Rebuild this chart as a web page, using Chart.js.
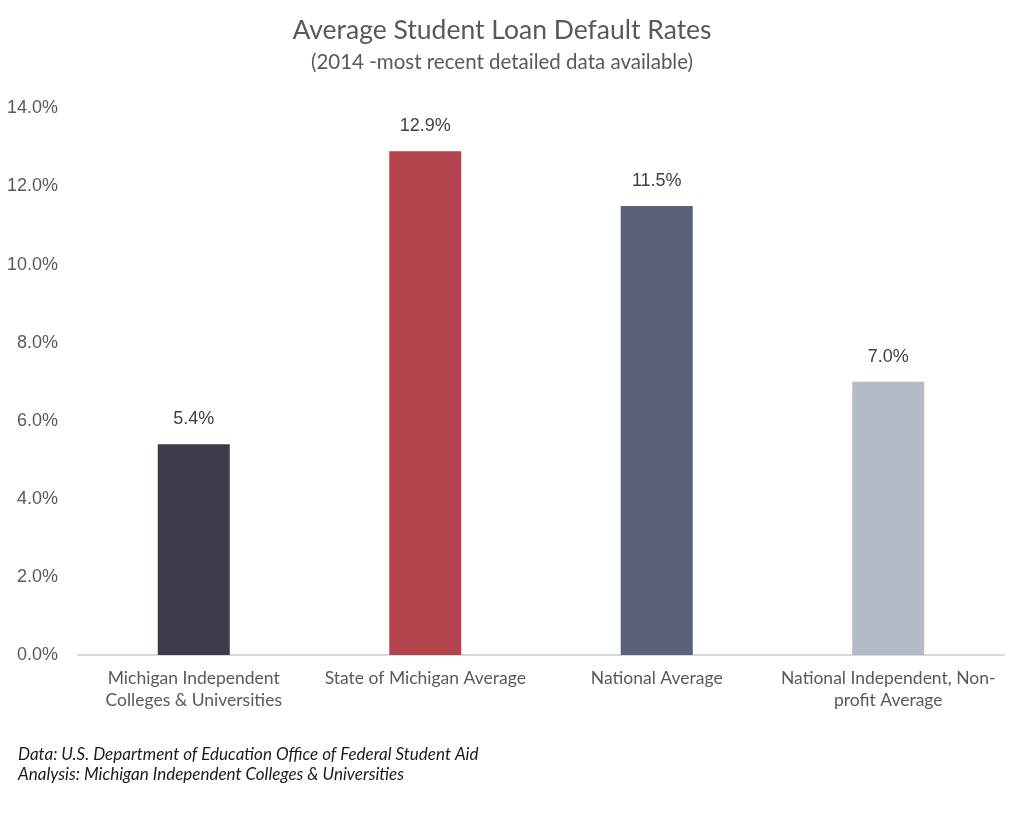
<!DOCTYPE html>
<html>
<head>
<meta charset="utf-8">
<script src="https://cdn.jsdelivr.net/npm/chart.js@4/dist/chart.umd.min.js"></script>
<style>
    html, body { margin: 0; padding: 0; background: #ffffff; }
    #wrap { position: relative; width: 1012px; height: 827px; }
</style>
</head>
<body>
<div id="wrap"><canvas id="loanChart"></canvas></div>
<script>
const categories = [
    ['Michigan Independent', 'Colleges & Universities'],
    'State of Michigan Average',
    'National Average',
    ['National Independent, Non-', 'profit Average']
];
const defaultRates = [5.4, 12.9, 11.5, 7.0];
const barColors = ['#3d3a4a', '#b5434e', '#5a6179', '#b5bbc6'];
const yTicks = [0, 2, 4, 6, 8, 10, 12, 14];
const footnotes = [
    'Data: U.S. Department of Education Office of Federal Student Aid',
    'Analysis: Michigan Independent Colleges & Universities'
];

const valueLabels = {
    id: 'valueLabels',
    afterDatasetsDraw(chart) {
        const ctx = chart.ctx;
        const meta = chart.getDatasetMeta(0);
        ctx.save();
        ctx.font = '18px "Liberation Sans", Arial, sans-serif';
        ctx.fillStyle = '#404040';
        ctx.textAlign = 'center';
        ctx.textBaseline = 'middle';
        meta.data.forEach((bar, i) => {
            ctx.fillText(defaultRates[i].toFixed(1) + '%', bar.x, bar.y - 25);
        });
        ctx.restore();
    }
};

const footnotePlugin = {
    id: 'footnotePlugin',
    afterDraw(chart) {
        const ctx = chart.ctx;
        ctx.save();
        ctx.font = 'italic 17px Lato, sans-serif';
        ctx.fillStyle = '#1a1a1a';
        ctx.textAlign = 'left';
        ctx.textBaseline = 'middle';
        footnotes.forEach((line, i) => {
            ctx.fillText(line, 18, 755 + i * 20);
        });
        ctx.restore();
    }
};

const ctx = document.getElementById('loanChart').getContext('2d');
new Chart(ctx, {
    type: 'bar',
    data: {
        labels: categories,
        datasets: [{
            label: 'Default rate',
            data: defaultRates,
            backgroundColor: barColors,
            borderWidth: 0,
            barPercentage: 0.311,
            categoryPercentage: 1.0
        }]
    },
    options: {
        responsive: true,
        maintainAspectRatio: false,
        animation: false,
        layout: {
            padding: { top: 0, right: 8, bottom: 0, left: 0 }
        },
        plugins: {
            legend: { display: false },
            tooltip: { enabled: false },
            title: {
                display: true,
                text: 'Average Student Loan Default Rates',
                color: '#595959',
                font: { family: 'Lato', size: 26.5, weight: 'normal', lineHeight: 1.2 },
                padding: { top: 15, bottom: 0 }
            },
            subtitle: {
                display: true,
                text: '(2014 -most recent detailed data available)',
                color: '#595959',
                font: { family: 'Lato', size: 20.5, weight: 'normal', lineHeight: 1.2 },
                padding: { top: 3, bottom: 34 }
            }
        },
        scales: {
            x: {
                grid: { display: false, drawTicks: false },
                border: { display: true, color: '#d9d9d9', width: 2 },
                ticks: {
                    color: '#595959',
                    padding: 12,
                    maxRotation: 0,
                    autoSkip: false,
                    font: { family: 'Lato', size: 17.5, lineHeight: 1.28 }
                },
                afterFit(scale) { scale.height = 172; }
            },
            y: {
                min: 0,
                max: 14,
                grid: { display: false, drawTicks: false },
                border: { display: false },
                afterBuildTicks(scale) {
                    scale.ticks = yTicks.map(v => ({ value: v }));
                },
                ticks: {
                    color: '#595959',
                    padding: 20,
                    font: { family: '"Liberation Sans", Arial', size: 18 },
                    callback: v => v.toFixed(1) + '%'
                },
                afterFit(scale) { scale.width = 78; }
            }
        }
    },
    plugins: [valueLabels, footnotePlugin]
});
</script>
</body>
</html>
